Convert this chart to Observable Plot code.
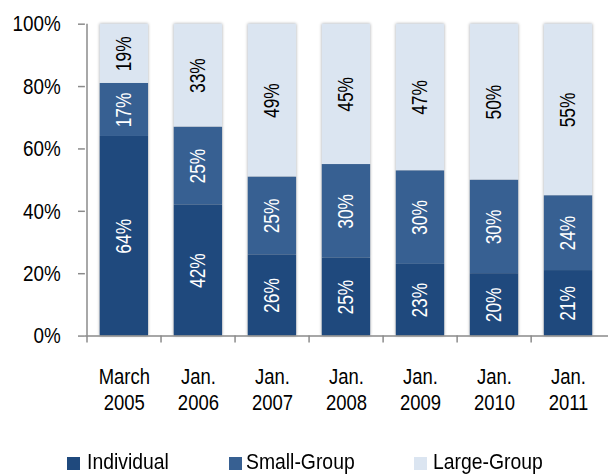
<!DOCTYPE html>
<html>
<head>
<meta charset="utf-8">
<script src="https://cdn.jsdelivr.net/npm/d3@7"></script>
<script src="https://cdn.jsdelivr.net/npm/@observablehq/plot@0.6"></script>
<style>
  html, body { margin: 0; padding: 0; background: #fff; overflow: hidden; width: 608px; height: 476px; }
  #wrap { position: relative; width: 608px; height: 476px; }
  #chart svg g[aria-label="bar"] { filter: drop-shadow(0 0 1.5px rgba(0,0,0,0.35)); }
  .leg { position: absolute; top: 449px; font-family: "Liberation Sans", Arial, sans-serif; font-size: 22px; line-height: 26px; color: #000; white-space: nowrap; transform: scaleX(0.88); transform-origin: 0 0; }
  .sw { position: absolute; width: 13px; height: 13px; top: 457px; }
</style>
</head>
<body>
<div id="wrap">
  <div id="chart"></div>
</div>
<script>
const categories = ["March\n2005", "Jan.\n2006", "Jan.\n2007", "Jan.\n2008", "Jan.\n2009", "Jan.\n2010", "Jan.\n2011"];
const series = ["Individual", "Small-Group", "Large-Group"];
const individual = [64, 42, 26, 25, 23, 20, 21];
const smallGroup = [17, 25, 25, 30, 30, 30, 24];
const largeGroup = [19, 33, 49, 45, 47, 50, 55];
const yTicks = [0, 20, 40, 60, 80, 100];
const colors = ["#1F497D", "#376092", "#DBE5F1"];

const FONT = '"Liberation Sans", Arial, sans-serif';

const data = [];
categories.forEach((c, i) => {
  const vals = [individual[i], smallGroup[i], largeGroup[i]];
  let base = 0;
  vals.forEach((v, j) => {
    data.push({cat: c, series: series[j], value: v, mid: base + v / 2});
    base += v;
  });
});

const W = 616, ML = 86, MR = 0;
const bw = (W - ML - MR) / categories.length;
const axisColor = "#8a8a8a";

const chart = Plot.plot({
  width: W,
  height: 430,
  marginLeft: ML,
  marginRight: MR,
  marginTop: 24,
  marginBottom: 90,
  style: {fontFamily: FONT, fontSize: "22px", color: "#000", background: "transparent", overflow: "visible"},
  x: {domain: categories, paddingInner: 0.34, paddingOuter: 0.17, label: null},
  y: {domain: [0, 100], label: null},
  color: {domain: series, range: colors},
  marks: [
    Plot.barY(data, {x: "cat", y: "value", fill: "series"}),
    Plot.text(data.filter(d => d.series !== "Large-Group"), {x: "cat", y: "mid", text: d => d.value + "%", rotate: -90, fill: "#fff", fontSize: 22}),
    Plot.text(data.filter(d => d.series === "Large-Group"), {x: "cat", y: "mid", text: d => d.value + "%", rotate: -90, fill: "#000", fontSize: 22}),
    Plot.ruleY([0], {stroke: axisColor, strokeWidth: 1.5}),
    Plot.ruleX([categories[0]], {y1: 0, y2: 100, dx: -bw / 2, stroke: axisColor, strokeWidth: 1.5}),
    Plot.axisY({ticks: yTicks, tickSize: 7, tickPadding: 18, tickFormat: d => d + "%", stroke: axisColor, strokeWidth: 1.5, fontSize: 23}),
    Plot.axisX({tickSize: 7, dx: -bw / 2, tickFormat: () => "", stroke: axisColor, strokeWidth: 1.5}),
    Plot.axisX({tickSize: 0, tickPadding: 30, lineHeight: 1.2, fontSize: 22})
  ]
});
// emulate a narrow typeface by compressing text along its writing direction
const narrow = {"y-axis tick label": 0.83, "x-axis tick label": 0.85, "text": 0.8};
chart.querySelectorAll("g[aria-label]").forEach(g => {
  const k = narrow[g.getAttribute("aria-label")];
  if (!k) return;
  g.querySelectorAll("text").forEach(el => {
    const x = +el.getAttribute("x") || 0, y = +el.getAttribute("y") || 0;
    const t = el.getAttribute("transform") || "";
    el.setAttribute("transform", `${t} translate(${x},${y}) scale(${k},1) translate(${-x},${-y})`);
  });
});
document.getElementById("chart").appendChild(chart);

const legendX = [{sw: 67, tx: 87}, {sw: 229, tx: 246}, {sw: 414, tx: 433}];
const wrap = document.getElementById("wrap");
series.forEach((s, i) => {
  const sw = document.createElement("div");
  sw.className = "sw";
  sw.style.left = legendX[i].sw + "px";
  sw.style.background = colors[i];
  wrap.appendChild(sw);
  const t = document.createElement("div");
  t.className = "leg";
  t.style.left = legendX[i].tx + "px";
  t.textContent = s;
  wrap.appendChild(t);
});
</script>
</body>
</html>
